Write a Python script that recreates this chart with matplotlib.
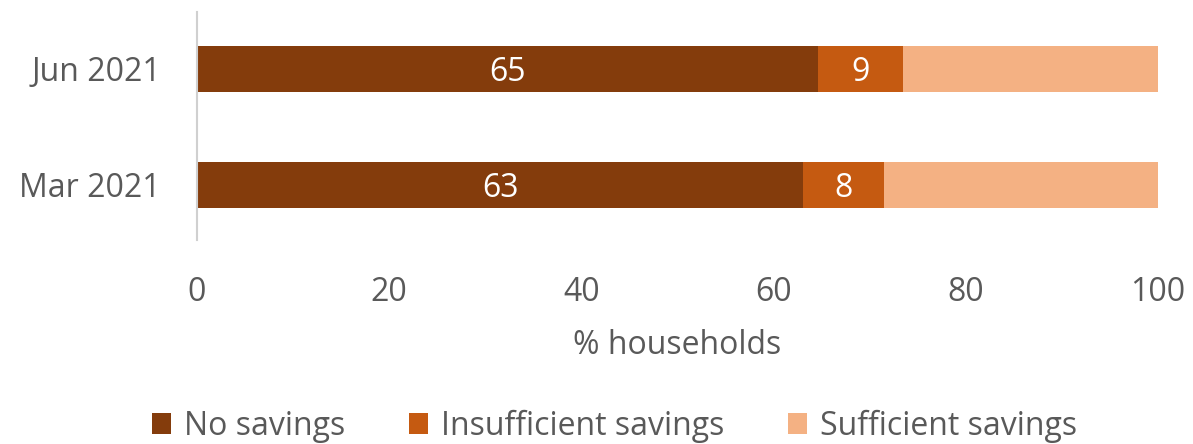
import matplotlib
matplotlib.use("Agg")
import matplotlib.pyplot as plt

categories = ["Mar 2021", "Jun 2021"]
series_names = ["No savings", "Insufficient savings", "Sufficient savings"]
no_savings = [63.1, 64.6]
insufficient = [8.4, 8.9]
sufficient = [28.5, 26.5]
colors = ["#843C0C", "#C55A11", "#F4B183"]
xticks = [0, 20, 40, 60, 80, 100]

plt.rcParams['font.family'] = ['Open Sans', 'DejaVu Sans']
FS = 23

fig = plt.figure(figsize=(11.93, 4.44), dpi=100)
ax = fig.add_axes([0.1651, 0.4595, 0.8056, 0.5135])

ypos = list(range(len(categories)))
left = [0.0] * len(categories)
data = [no_savings, insufficient, sufficient]
for i, (name, vals, c) in enumerate(zip(series_names, data, colors)):
    bars = ax.barh(ypos, vals, left=left, height=0.4, color=c, label=name,
                   edgecolor='none')
    if i < 2:
        for b, v in zip(bars, vals):
            ax.text(b.get_x() + b.get_width() / 2, b.get_y() + b.get_height() / 2 - 0.03,
                    f"{round(v):d}", ha='center', va='center', color='white',
                    fontsize=FS)
    left = [l + v for l, v in zip(left, vals)]

ax.set_xlim(0, 100)
ax.set_ylim(-0.474, 1.491)
ax.set_yticks(ypos)
ax.set_yticklabels(categories)
ax.set_xticks(xticks)
ax.tick_params(axis='both', length=0, labelsize=FS, labelcolor='#595959')
ax.tick_params(axis='x', pad=26)
ax.tick_params(axis='y', pad=26)
for s in ['top', 'right', 'bottom']:
    ax.spines[s].set_visible(False)
ax.spines['left'].set_color('#D0D0D0')
ax.spines['left'].set_linewidth(1.5)
ax.set_xlabel("% households", fontsize=FS, color='#595959', labelpad=14)

leg = fig.legend(loc='center', bbox_to_anchor=(0.515, 0.04), ncol=3, frameon=False,
                 fontsize=FS, handlelength=0.6, handleheight=0.6,
                 handletextpad=0.4, columnspacing=2.0)
for t in leg.get_texts():
    t.set_color('#595959')

fig.savefig("out.png", dpi=100)
